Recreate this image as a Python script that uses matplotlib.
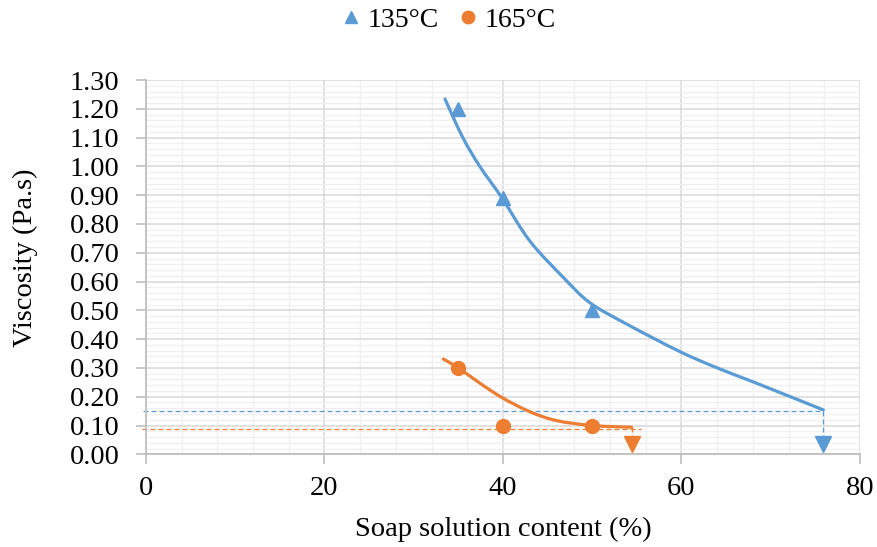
import matplotlib
matplotlib.use("Agg")
import matplotlib.pyplot as plt
from matplotlib.ticker import MultipleLocator
from matplotlib.path import Path
from matplotlib.patches import PathPatch

plt.rcParams['font.family'] = ['Liberation Serif', 'DejaVu Serif']

# measured data
x_135 = [35, 40, 50]
y_135 = [1.20, 0.89, 0.50]
x_165 = [35, 40, 50]
y_165 = [0.30, 0.10, 0.10]

# trend curves
curve_135_x = [33.5, 35.5, 37.4, 39.85, 43.0, 46.8, 49.75, 54.0, 59.8, 64.0, 68.4, 75.9]
curve_135_y = [1.234, 1.10, 1.00, 0.892, 0.741, 0.613, 0.526, 0.45, 0.357, 0.30, 0.247, 0.154]
curve_165_x = [33.3, 35.0, 37.5, 40.0, 43.0, 46.0, 50.0, 54.4]
curve_165_y = [0.331, 0.300, 0.245, 0.195, 0.148, 0.117, 0.100, 0.094]

# reference read-offs (dashed guide lines)
ref_135_x, ref_135_y = 75.9, 0.152
ref_165_x, ref_165_y, ref_165_end = 54.4, 0.087, 55.5
arrow_y = 0.035

blue = '#5B9BD5'
orange = '#ED7D31'

W, H = 878, 547
fig = plt.figure(figsize=(W / 100, H / 100), dpi=100)
ax = fig.add_axes([146 / W, 1 - 454.3 / H, 714 / W, 374.3 / H])

ax.set_xlim(0, 80)
ax.set_ylim(0, 1.30)
ax.xaxis.set_major_locator(MultipleLocator(20))
ax.xaxis.set_minor_locator(MultipleLocator(4))
ax.yaxis.set_major_locator(MultipleLocator(0.10))
ax.yaxis.set_minor_locator(MultipleLocator(0.02))
ax.yaxis.set_major_formatter(plt.FormatStrFormatter('%.2f'))

ax.grid(which='major', color='#D9D9D9', lw=1.1, zorder=0)
ax.grid(which='minor', color='#F0F0F0', lw=1.0, zorder=0)
ax.set_axisbelow(True)
for s in ['top', 'right']:
    ax.spines[s].set_visible(False)
for s in ['left', 'bottom']:
    ax.spines[s].set_color('#BFBFBF')
    ax.spines[s].set_linewidth(1.3)
ax.tick_params(which='major', length=7, color='#BFBFBF', width=1.2, labelsize=20.5)
ax.tick_params(which='minor', length=0)
ax.tick_params(axis='y', pad=12)
ax.tick_params(axis='x', pad=8.5)


def smooth_path(xs, ys):
    # Catmull-Rom style smooth drawing through the read points
    pts = list(zip(xs, ys))
    verts = [pts[0]]
    codes = [Path.MOVETO]
    n = len(pts)
    for i in range(n - 1):
        p0 = pts[i - 1] if i > 0 else pts[i]
        p1 = pts[i]
        p2 = pts[i + 1]
        p3 = pts[i + 2] if i + 2 < n else pts[i + 1]
        c1 = (p1[0] + (p2[0] - p0[0]) / 6, p1[1] + (p2[1] - p0[1]) / 6)
        c2 = (p2[0] - (p3[0] - p1[0]) / 6, p2[1] - (p3[1] - p1[1]) / 6)
        verts += [c1, c2, p2]
        codes += [Path.CURVE4] * 3
    return Path(verts, codes)


dash = (0, (4, 2.4))
# dashed guides
ax.plot([-0.3, ref_135_x], [ref_135_y, ref_135_y], ls=dash, color=blue, lw=0.9, clip_on=False, zorder=2)
ax.plot([ref_135_x, ref_135_x], [ref_135_y, 0.05], ls=dash, color=blue, lw=0.9, zorder=2)
ax.plot([ref_135_x], [arrow_y], marker='v', ms=11, color=blue, ls='none', zorder=3)

ax.plot([-0.5, ref_165_end], [ref_165_y, ref_165_y], ls=dash, color=orange, lw=0.9, clip_on=False, zorder=2)
ax.plot([ref_165_x, ref_165_x], [curve_165_y[-1], 0.05], ls=dash, color=orange, lw=0.9, zorder=2)
ax.plot([ref_165_x], [arrow_y], marker='v', ms=11, color=orange, ls='none', zorder=3)

# curves
for cx, cy, col in [(curve_135_x, curve_135_y, blue), (curve_165_x, curve_165_y, orange)]:
    ax.add_patch(PathPatch(smooth_path(cx, cy), facecolor='none', edgecolor=col,
                           lw=2.3, capstyle='round', zorder=3))

# markers
h1, = ax.plot(x_135, y_135, ls='none', marker='^', ms=10, color=blue, label='135°C', zorder=4)
h2, = ax.plot(x_165, y_165, ls='none', marker='o', ms=10, color=orange, label='165°C', zorder=4)

fig.text(503 / W, 1 - 536 / H, 'Soap solution content (%)', fontsize=20.5,
         ha='center', va='baseline')
fig.text(25 / W, 1 - 258 / H, 'Viscosity (Pa.s)', fontsize=20.5, rotation=90,
         ha='center', va='center')

fig.legend(handles=[h1, h2], loc='center', bbox_to_anchor=(448 / W, 1 - 20 / H), ncol=2,
           frameon=False, fontsize=20, handlelength=0.8, handletextpad=0.2,
           columnspacing=0.65, markerscale=0.9, borderpad=0)

fig.savefig('out.png', dpi=100)
